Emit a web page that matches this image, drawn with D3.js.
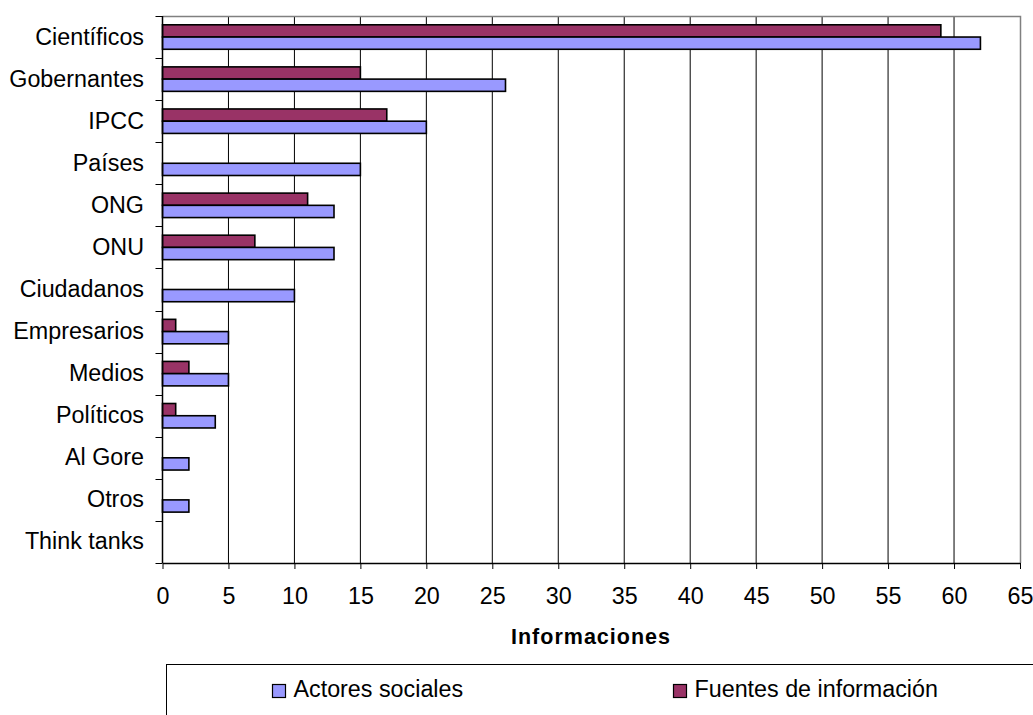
<!DOCTYPE html>
<html><head><meta charset="utf-8">
<script src="https://cdn.jsdelivr.net/npm/d3@7"></script>
<style>body{margin:0;background:#fff}svg{display:block}text{font-family:"Liberation Sans",Arial,sans-serif}</style>
</head><body><svg id="c" width="1033" height="715"></svg>
<script>
const categories=["Científicos","Gobernantes","IPCC","Países","ONG","ONU","Ciudadanos","Empresarios","Medios","Políticos","Al Gore","Otros","Think tanks"];
const actores=[62,26,20,15,13,13,10,5,5,4,2,2,0];
const fuentes=[59,15,17,0,11,7,0,1,2,1,0,0,0];
const xTicks=d3.range(0,66,5);
const seriesNames=["Actores sociales","Fuentes de información"];
const colors={a:"#9999FF",f:"#993366"};
const FS=23.3;

const svg=d3.select("#c");
const L=162.5,R=1020,T=16,B=563;
const x=d3.scaleLinear().domain([0,65]).range([L,R]);
const y=d3.scaleBand().domain(categories).range([T,B]);
const inner=d3.scaleBand().domain(["f","a"]).range([0,y.bandwidth()]).paddingOuter(0.72).paddingInner(0);

// grid
svg.append("g").selectAll("line").data(xTicks.slice(1,-1)).join("line")
 .attr("x1",d=>x(d)).attr("x2",d=>x(d)).attr("y1",T).attr("y2",B)
 .attr("stroke","#000").attr("stroke-width",1);
// plot border top/right
svg.append("path").attr("d",`M${L},${T+0.5}H${R+0.5}V${B}`).attr("fill","none").attr("stroke","#808080").attr("stroke-width",1.5);

// bars
const g=svg.append("g");
categories.forEach((c,i)=>{
  [["f",fuentes[i]],["a",actores[i]]].forEach(([k,v])=>{
    if(v<=0)return;
    g.append("rect").attr("x",x(0)).attr("y",y(c)+inner(k)).attr("width",x(v)-x(0)).attr("height",inner.bandwidth())
     .attr("fill",colors[k]).attr("stroke","#000").attr("stroke-width",1.6);
  });
});

// y axis
const ya=svg.append("g");
ya.append("line").attr("x1",L).attr("x2",L).attr("y1",T).attr("y2",B).attr("stroke","#000").attr("stroke-width",1.5);
ya.selectAll("line.t").data(d3.range(categories.length+1)).join("line").attr("class","t")
 .attr("x1",L-7).attr("x2",L).attr("y1",i=>Math.round(T+i*y.step())+0.5).attr("y2",i=>Math.round(T+i*y.step())+0.5)
 .attr("stroke","#000").attr("stroke-width",1);
ya.selectAll("text").data(categories).join("text")
 .attr("x",144).attr("y",c=>y(c)+y.bandwidth()/2+7.5).attr("text-anchor","end").attr("font-size",FS).text(d=>d);

// x axis
const xa=svg.append("g").attr("transform",`translate(0,${B})`)
 .call(d3.axisBottom(x).tickValues(xTicks).tickSize(6).tickSizeOuter(0).tickPadding(18));
xa.select(".domain").attr("stroke","#000").attr("stroke-width",1.5);
xa.selectAll(".tick line").attr("stroke","#000");
xa.selectAll("text").attr("font-size",FS).attr("fill","#000").attr("font-family","Liberation Sans, Arial, sans-serif");

svg.append("text").attr("x",591).attr("y",644).attr("text-anchor","middle").attr("font-size",21.5).attr("letter-spacing",1).attr("font-weight","bold").text("Informaciones");

// legend
svg.append("rect").attr("x",166.5).attr("y",664.5).attr("width",900).attr("height",80).attr("fill","#fff").attr("stroke","#000").attr("stroke-width",1);
const leg=[{k:"a",x:272.5},{k:"f",x:673.5}];
leg.forEach((l,i)=>{
  svg.append("rect").attr("x",l.x).attr("y",684.5).attr("width",13).attr("height",13).attr("fill",colors[l.k]).attr("stroke","#000").attr("stroke-width",1.2);
  svg.append("text").attr("x",l.x+21).attr("y",697).attr("font-size",FS).text(seriesNames[i]);
});
</script></body></html>
